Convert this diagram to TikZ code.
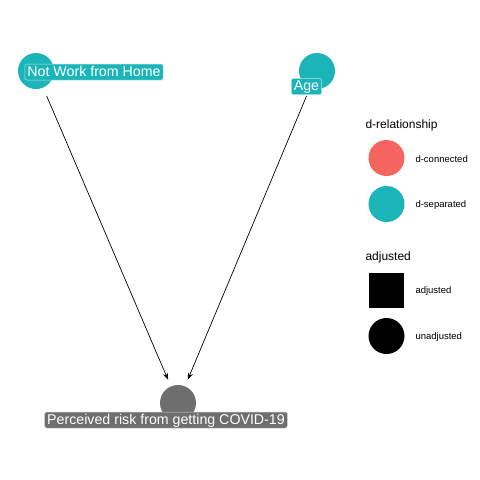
\documentclass[tikz,border=0pt]{standalone}
\usepackage{fontspec}
\setmainfont{Liberation Sans}
\usetikzlibrary{arrows.meta}
\definecolor{teal1}{RGB}{27,181,185}
\definecolor{red1}{RGB}{246,100,96}
\definecolor{gray1}{RGB}{110,110,110}
\tikzset{
  dot/.style={circle, minimum size=36pt, inner sep=0pt, fill=#1},
  lab/.style={fill=#1, draw=white!65!#1, line width=0.5pt, rounded corners=2pt, text=white, inner xsep=2.5pt, inner ysep=1.5pt, font=\fontsize{14.2}{14.2}\selectfont, text height=10.5pt, text depth=2.5pt},
  edge/.style={-{Stealth[length=7pt,width=5pt]}, line width=0.7pt, shorten <=9pt, shorten >=7pt},
  ltitle/.style={anchor=west, font=\fontsize{12}{12}\selectfont},
  ltext/.style={anchor=west, font=\fontsize{9.5}{9.5}\selectfont}
}
\begin{document}
\begin{tikzpicture}[x=1pt,y=-1pt]
\useasboundingbox[fill=white] (0,0) rectangle (480,480);
% nodes
\node[dot=teal1] (nwh) at (36,71) {};
\node[dot=teal1] (age) at (317,71) {};
\node[dot=gray1] (per) at (178,403) {};
\draw[edge] (nwh) -- (per);
\draw[edge] (age) -- (per);
\node[lab=teal1] (nwhl) at (94,72) {Not Work from Home};
\node[lab=teal1] (agel) at (306.5,86.5) {Age};
\node[lab=gray1] (perl) at (166,420) {Perceived risk from getting COVID-19};
% legend
\node[ltitle] (t1) at (362,125) {d-relationship};
\node[dot=red1] (lc) at (386.5,158) {};
\node[ltext] (lct) at (412,159) {d-connected};
\node[dot=teal1] (ls) at (386.5,204) {};
\node[ltext] (lst) at (412,205) {d-separated};
\node[ltitle] (t2) at (362,257) {adjusted};
\node[fill=black, minimum size=35pt, inner sep=0pt] (la) at (386.5,290) {};
\node[ltext] (lat) at (412,291) {adjusted};
\node[dot=black] (lu) at (386.5,336) {};
\node[ltext] (lut) at (412,337) {unadjusted};
\end{tikzpicture}
\end{document}
